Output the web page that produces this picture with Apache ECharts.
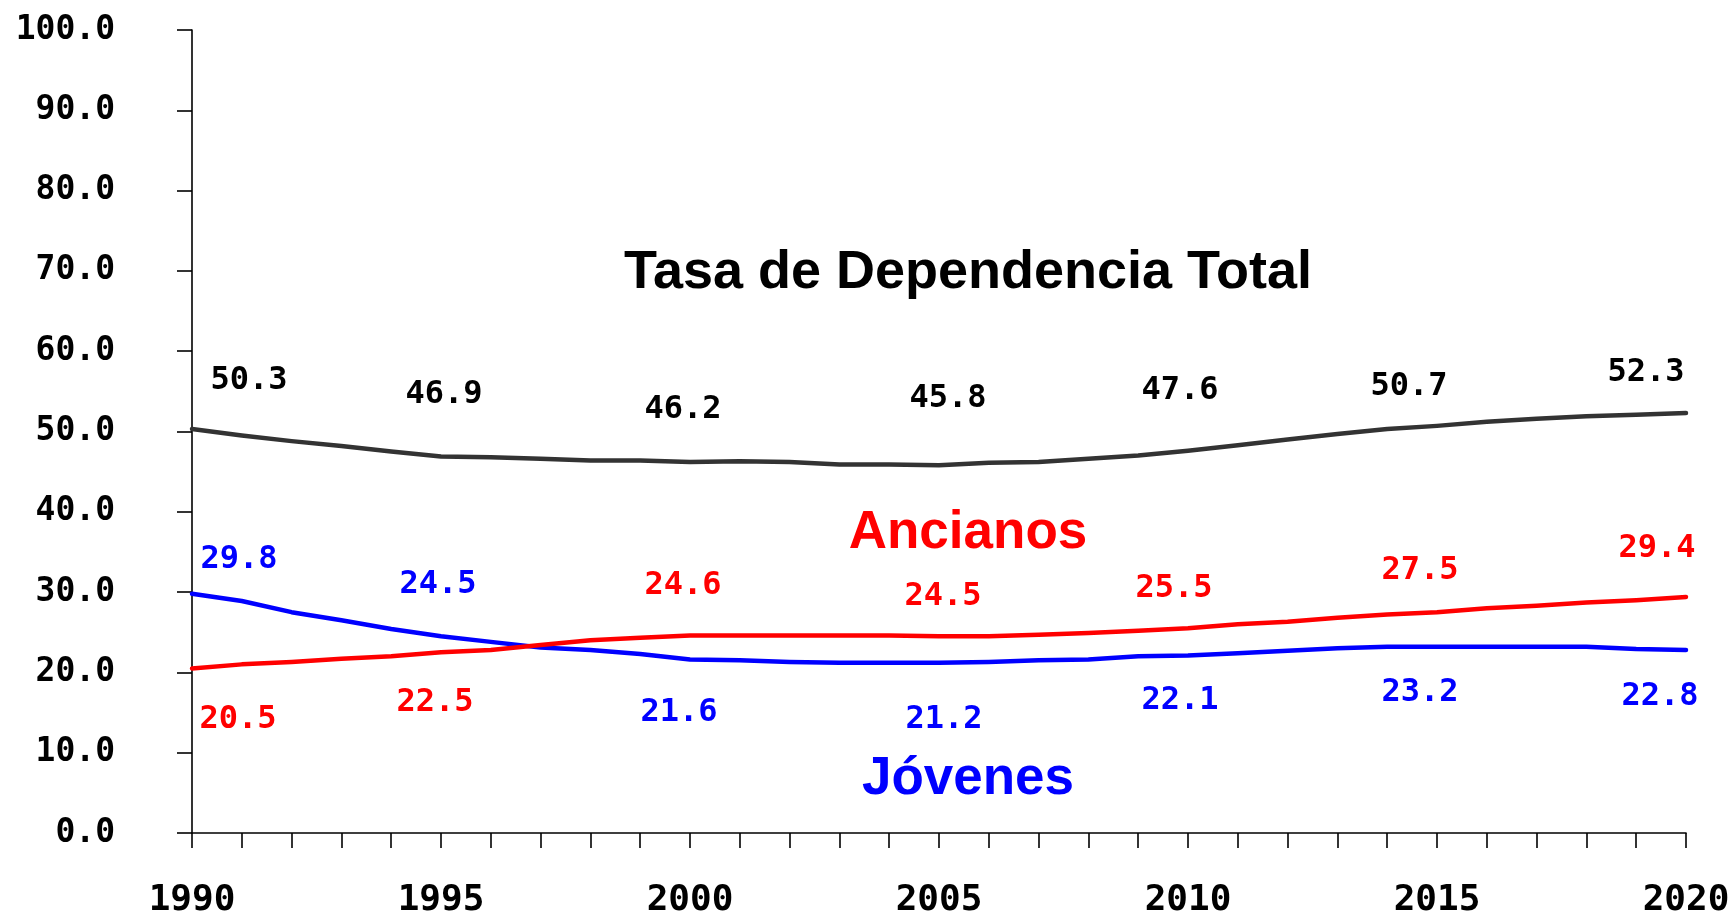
<!DOCTYPE html>
<html>
<head>
<meta charset="utf-8">
<title>Tasa de Dependencia</title>
<script src="https://cdn.jsdelivr.net/npm/echarts@6/dist/echarts.min.js"></script>
<style>
  html, body { margin: 0; padding: 0; background: #fff; }
  #main { width: 1733px; height: 914px; }
</style>
</head>
<body>
<div id="main"></div>
<script>
// años 1990-2020
const years = [];
for (let y = 1990; y <= 2020; y++) years.push(String(y));

// Tasa de dependencia total
const total = [50.3, 49.5, 48.8, 48.2, 47.5, 46.9, 46.8, 46.6, 46.4, 46.4,
  46.2, 46.3, 46.2, 45.9, 45.9, 45.8, 46.1, 46.2, 46.6, 47.0,
  47.6, 48.3, 49.0, 49.7, 50.3, 50.7, 51.2, 51.6, 51.9, 52.1, 52.3];
// Jóvenes
const jovenes = [29.8, 28.9, 27.5, 26.5, 25.4, 24.5, 23.8, 23.1, 22.8, 22.3,
  21.6, 21.5, 21.3, 21.2, 21.2, 21.2, 21.3, 21.5, 21.6, 22.0,
  22.1, 22.4, 22.7, 23.0, 23.2, 23.2, 23.2, 23.2, 23.2, 22.9, 22.8];
// Ancianos
const ancianos = [20.5, 21.0, 21.3, 21.7, 22.0, 22.5, 22.8, 23.4, 24.0, 24.3,
  24.6, 24.6, 24.6, 24.6, 24.6, 24.5, 24.5, 24.7, 24.9, 25.2,
  25.5, 26.0, 26.3, 26.8, 27.2, 27.5, 28.0, 28.3, 28.7, 29.0, 29.4];

// desplazamiento de las etiquetas (cada 5 años), en px
const offTotal = [[57,-48],[3,-62],[-7,-52],[9,-67],[-8,-60],[-28,-39],[-40,-40]];
const offJov   = [[47,-34],[-3,-52],[-11,53],[5,57],[-8,45],[-17,46],[-26,47]];
const offAnc   = [[46,51],[-6,50],[-7,-50],[4,-40],[-14,-40],[-17,-41],[-29,-48]];

const mono = 'DejaVu Sans Mono';

function makeData(values, offsets){
  return values.map(function(v, i){
    if (i % 5 !== 0) return v;
    return { value: v, label: { show: true, offset: offsets[i / 5] } };
  });
}

function lineSeries(name, values, offsets, color, textColor){
  return {
    name: name,
    type: 'line',
    data: makeData(values, offsets),
    symbol: 'circle',
    symbolSize: 1,
    showSymbol: true,
    itemStyle: { color: 'rgba(0,0,0,0)' },
    lineStyle: { color: color, width: 4.5, cap: 'round', join: 'round' },
    label: {
      show: false,
      position: 'inside',
      color: textColor,
      fontFamily: mono,
      fontWeight: 'bold',
      fontSize: 32,
      align: 'center',
      verticalAlign: 'middle',
      formatter: function(p){ return p.value.toFixed(1); }
    },
    emphasis: { disabled: true },
    silent: true
  };
}

const myChart = echarts.init(document.getElementById('main'));
const option = {
  animation: false,
  backgroundColor: '#fff',
  grid: { left: 192, right: 47, top: 30, bottom: 81, containLabel: false, outerBoundsMode: 'none' },
  xAxis: {
    type: 'category',
    data: years,
    boundaryGap: false,
    axisLine: { lineStyle: { color: '#000', width: 1.6 } },
    axisTick: { show: true, interval: 0, length: 15, lineStyle: { color: '#000', width: 1.6 } },
    axisLabel: {
      interval: 4,
      margin: 50,
      color: '#000',
      fontFamily: mono,
      fontWeight: 'bold',
      fontSize: 36
    },
    splitLine: { show: false }
  },
  yAxis: {
    type: 'value',
    min: 0,
    max: 100,
    interval: 10,
    axisLine: { show: true, lineStyle: { color: '#000', width: 1.6 } },
    axisTick: { show: true, length: 15, lineStyle: { color: '#000', width: 1.6 } },
    axisLabel: {
      margin: 77,
      color: '#000',
      fontFamily: mono,
      fontWeight: 'bold',
      fontSize: 33,
      formatter: function(v){ return v.toFixed(1); }
    },
    splitLine: { show: false }
  },
  graphic: [
    { type: 'text', x: 968, y: 273, silent: true,
      style: { text: 'Tasa de Dependencia Total', fill: '#000', font: 'bold 54px "Liberation Sans"', align: 'center', verticalAlign: 'middle' } },
    { type: 'text', x: 968, y: 533, silent: true,
      style: { text: 'Ancianos', fill: '#ff0000', font: 'bold 53px "Liberation Sans"', align: 'center', verticalAlign: 'middle' } },
    { type: 'text', x: 968, y: 779, silent: true,
      style: { text: 'Jóvenes', fill: '#0000ff', font: 'bold 53px "Liberation Sans"', align: 'center', verticalAlign: 'middle' } }
  ],
  series: [
    lineSeries('Total', total, offTotal, '#333333', '#000'),
    lineSeries('Jóvenes', jovenes, offJov, '#0000ff', '#0000ff'),
    lineSeries('Ancianos', ancianos, offAnc, '#ff0000', '#ff0000')
  ]
};
myChart.setOption(option);
</script>
</body>
</html>
